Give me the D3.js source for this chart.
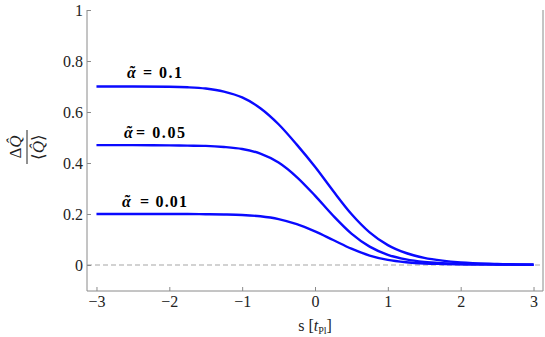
<!DOCTYPE html>
<html>
<head>
<meta charset="utf-8">
<script src="https://cdn.jsdelivr.net/npm/d3@7"></script>
<style>
  body { margin: 0; background: #fff; }
  svg text { font-family: "Liberation Serif", "Times New Roman", serif; }
</style>
</head>
<body>
<div id="chart"></div>
<script>
// datos
var sValues = [-3, -2.5, -2, -1.75, -1.5, -1.25, -1, -0.75, -0.5, -0.25, 0, 0.25, 0.5, 0.75, 1, 1.25, 1.5, 1.75, 2, 2.5, 3];
var alpha01 = [0.700, 0.700, 0.699, 0.697, 0.692, 0.680, 0.657, 0.615, 0.552, 0.472, 0.385, 0.290, 0.200, 0.128, 0.078, 0.047, 0.028, 0.017, 0.010, 0.004, 0.001];
var alpha005 = [0.470, 0.470, 0.469, 0.468, 0.467, 0.463, 0.455, 0.437, 0.402, 0.345, 0.272, 0.193, 0.123, 0.072, 0.040, 0.022, 0.012, 0.007, 0.004, 0.002, 0.001];
var alpha001 = [0.200, 0.200, 0.200, 0.200, 0.199, 0.198, 0.196, 0.191, 0.180, 0.160, 0.132, 0.098, 0.064, 0.037, 0.020, 0.011, 0.006, 0.004, 0.003, 0.002, 0.001];
var seriesLabels = ["= 0.1", "= 0.05", "= 0.01"];
var xTicks = [-3, -2, -1, 0, 1, 2, 3];
var yTicks = [0, 0.2, 0.4, 0.6, 0.8, 1];

var W = 545, H = 337;
var svg = d3.select("#chart").append("svg")
    .attr("width", W)
    .attr("height", H);

var x = d3.scaleLinear().domain([-3.13, 3.13]).range([87, 543]);
var y = d3.scaleLinear().domain([-0.102, 1]).range([291, 10]);

// linea cero punteada
svg.append("line")
    .attr("x1", x(-3.13)).attr("x2", x(3.13))
    .attr("y1", y(0)).attr("y2", y(0))
    .attr("stroke", "#c4c4c4")
    .attr("stroke-width", 1.5)
    .attr("stroke-dasharray", "5,3");

// curvas
var linea = d3.line()
    .curve(d3.curveMonotoneX)
    .x(function(d) { return x(d[0]); })
    .y(function(d) { return y(d[1]); });

[alpha01, alpha005, alpha001].forEach(function(serie) {
    svg.append("path")
        .datum(d3.zip(sValues, serie))
        .attr("d", linea)
        .attr("fill", "none")
        .attr("stroke", "#0a0aff")
        .attr("stroke-width", 2.4);
});

// etiquetas de las curvas (alfa con tilde + valor), todo en un solo <text>
var labelPos = [
    {ax: 127, x0: 143, x1: 182, y: 78},
    {ax: 124, x0: 136, x1: 185, y: 138},
    {ax: 122, x0: 140, x1: 187, y: 207}
];
seriesLabels.forEach(function(lab, i) {
    var p = labelPos[i];
    var t = svg.append("text")
        .attr("x", p.ax).attr("y", p.y)
        .attr("font-size", 16)
        .attr("font-weight", "bold")
        .attr("fill", "#000");
    var a = t.append("tspan").attr("font-style", "italic").text("\u03b1");
    var til = t.append("tspan").text("\u02dc");
    var aw = a.node().getComputedTextLength();
    var tw = til.node().getComputedTextLength();
    til.attr("dx", -(aw + tw) / 2 + 1);
    var v = t.append("tspan").attr("x", p.x0).text(lab);
    var vw = v.node().getComputedTextLength();
    v.attr("letter-spacing", ((p.x1 - p.x0) - vw) / (lab.length - 1));
});

// ejes
var axisColor = "#8a8a8a";
var gx = svg.append("g").attr("transform", "translate(0," + 291 + ")");
gx.call(d3.axisBottom(x).tickValues(xTicks).tickSize(-4).tickPadding(5)
    .tickFormat(function(d) { return d < 0 ? "\u2212" + Math.abs(d) : d; }));
var gy = svg.append("g").attr("transform", "translate(" + 87 + ",0)");
gy.call(d3.axisLeft(y).tickValues(yTicks).tickSize(-4).tickPadding(4)
    .tickFormat(function(d) { return d === 0 ? "0" : (d === 1 ? "1" : d.toFixed(1)); }));

[gx, gy].forEach(function(g) {
    g.attr("font-family", null);
    g.select(".domain").attr("stroke", axisColor).attr("stroke-width", 1);
    g.selectAll(".tick line").attr("stroke", axisColor);
    g.selectAll(".tick text")
        .attr("font-size", 16)
        .attr("fill", "#222");
});
gx.select(".domain").attr("d", "M87,0H543");
gy.select(".domain").attr("d", "M0,10V291");

// borde derecho
svg.append("line")
    .attr("x1", 543).attr("x2", 543)
    .attr("y1", 10).attr("y2", 291)
    .attr("stroke", axisColor);

// titulo eje x
var xt = svg.append("text")
    .attr("x", 315).attr("y", 331)
    .attr("text-anchor", "middle")
    .attr("font-size", 16)
    .attr("fill", "#222");
xt.append("tspan").text("s [");
xt.append("tspan").attr("font-style", "italic").text("t");
xt.append("tspan").attr("font-size", 10).attr("dy", 3).text("Pl");
xt.append("tspan").attr("dy", -3).text("]");

// titulo eje y (fraccion)
var yl = svg.append("g").attr("transform", "translate(27,147) rotate(-90)");
yl.append("text")
    .attr("x", 0).attr("y", -6)
    .attr("text-anchor", "middle")
    .attr("font-size", 17)
    .attr("fill", "#222")
    .html("\u0394<tspan font-style='italic'>Q\u0302</tspan>");
yl.append("line")
    .attr("x1", -17).attr("x2", 17)
    .attr("y1", 0).attr("y2", 0)
    .attr("stroke", "#222")
    .attr("stroke-width", 1);
yl.append("text")
    .attr("x", 0).attr("y", 17)
    .attr("text-anchor", "middle")
    .attr("font-size", 17)
    .attr("fill", "#222")
    .html("\u27e8<tspan font-style='italic'>Q\u0302</tspan>\u27e9");
</script>
</body>
</html>
